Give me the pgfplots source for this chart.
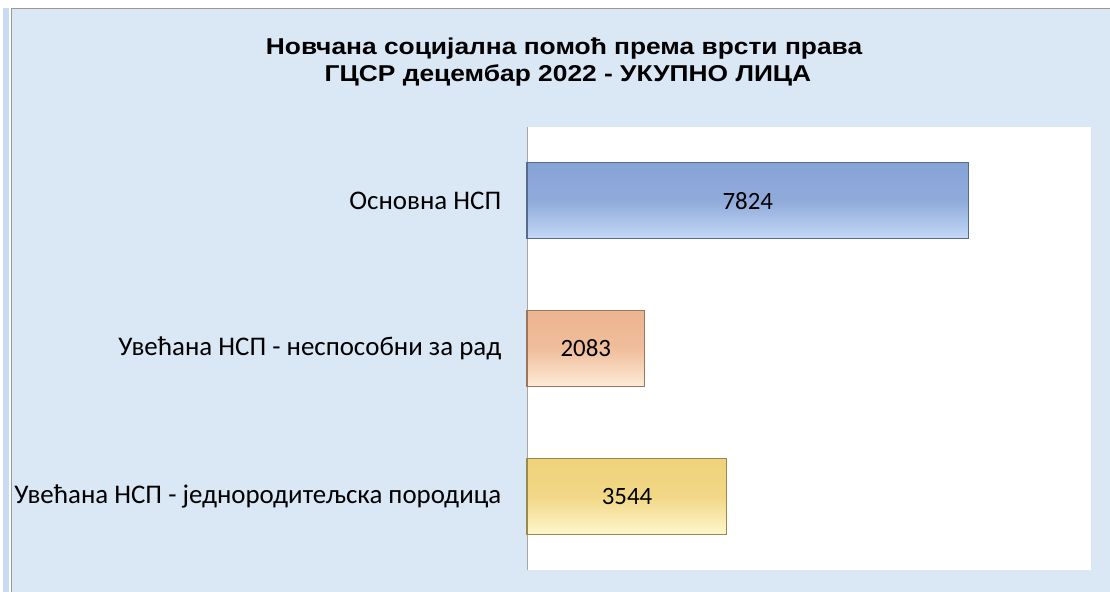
\documentclass[border=0pt]{standalone}
\usepackage{pgfplots}
\pgfplotsset{compat=1.18}
\usepackage{fontspec}
\setmainfont{Carlito}
\newfontfamily\titlefont{Liberation Sans}
\definecolor{bgblue}{HTML}{DAE7F5}
\definecolor{stripblue}{HTML}{C9DBF3}
\definecolor{barblueD}{HTML}{87A3D6}
\definecolor{barblueL}{HTML}{C4D9F6}
\definecolor{barpeachD}{HTML}{EDB590}
\definecolor{barpeachL}{HTML}{FDEBD8}
\definecolor{baryelD}{HTML}{EFD27A}
\definecolor{baryelL}{HTML}{FEF6CC}
\begin{document}
\begin{tikzpicture}
\useasboundingbox (0,0) rectangle (1110bp,-592bp);
\fill[white] (0,0) rectangle (1110bp,-592bp);
\fill[bgblue] (11bp,-8bp) rectangle (1110bp,-592bp);
\fill[stripblue] (3bp,-8bp) rectangle (9bp,-592bp);
\draw[gray!80,line width=0.8bp] (11bp,-592bp) -- (11bp,-8bp) -- (1110bp,-8bp);
\node[font=\titlefont\bfseries\fontsize{23}{27}\selectfont, anchor=base, xscale=1.15, inner sep=0pt] at (564bp,-54.7bp) {Новчана социјална помоћ према врсти права};
\node[font=\titlefont\bfseries\fontsize{23}{27}\selectfont, anchor=base, xscale=1.15, inner sep=0pt] at (568bp,-81.3bp) {ГЦСР децембар 2022 - УКУПНО ЛИЦА};
\begin{axis}[
  at={(527bp,-570bp)}, anchor=south west,
  width=564bp, height=443bp, scale only axis,
  xmin=0, xmax=10000, ymin=-0.5, ymax=2.5, y dir=reverse,
  axis x line=none, axis y line*=left,
  y axis line style={draw=gray!70, line width=0.8bp, -},
  axis background/.style={fill=white},
  xtick=\empty, ytick={0,1,2},
  yticklabels={Основна НСП, Увећана НСП - неспособни за рад, Увећана НСП - једнородитељска породица},
  ytick style={draw=none},
  yticklabel style={font=\fontsize{27}{32}\selectfont, xshift=-18bp},
  xbar, bar width=76bp, bar shift=0pt,
  clip=false,
  /pgf/number format/.cd, 1000 sep={}, assume math mode=true, /pgfplots/.cd,
  nodes near coords,
  visualization depends on={rawx \as \rawx},
  every node near coord/.append style={font=\fontsize{25}{30}\selectfont, anchor=center, inner sep=0pt,
     xshift={-\rawx*0.0282bp}},
]
\addplot[draw=barblueD!65!black, line width=1.2bp, top color=barblueD, bottom color=barblueL, middle color=barblueD!85!barblueL] coordinates {(7824,0)};
\addplot[draw=barpeachD!65!black, line width=1.2bp, top color=barpeachD, bottom color=barpeachL, middle color=barpeachD!85!barpeachL] coordinates {(2083,1)};
\addplot[draw=baryelD!65!black, line width=1.2bp, top color=baryelD, bottom color=baryelL, middle color=baryelD!85!baryelL] coordinates {(3544,2)};
\end{axis}
\end{tikzpicture}
\end{document}
